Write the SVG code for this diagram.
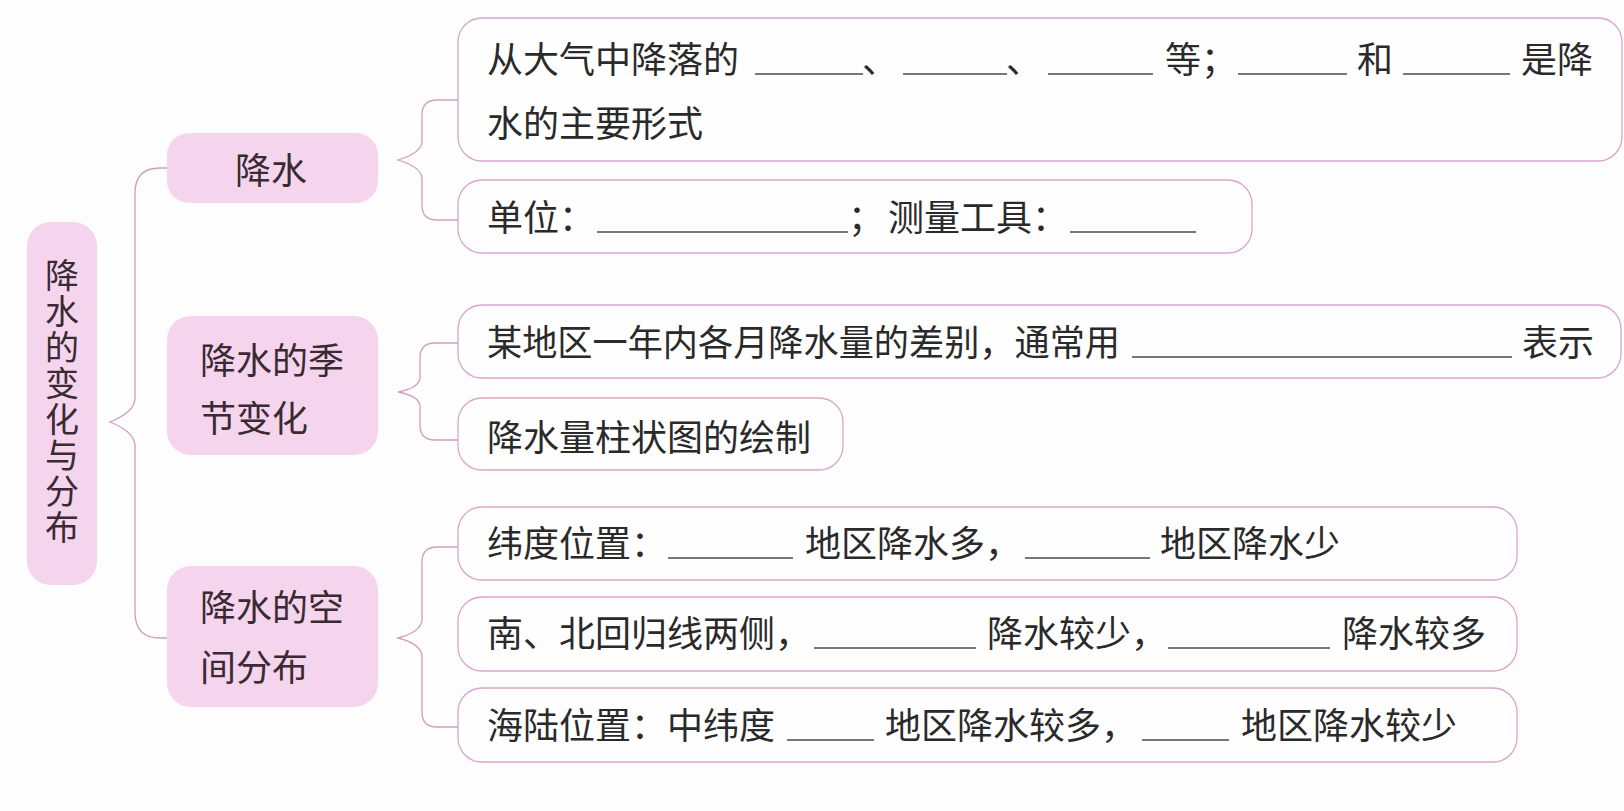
<svg xmlns="http://www.w3.org/2000/svg" width="1624" height="811" viewBox="0 0 1624 811">
<style>
.bg{fill:#fefdfe}
.node{fill:#f5d5ed;stroke:none}
.leaf{fill:#fffeff;stroke:#d9a5cc;stroke-width:1.3}
.conn{fill:none;stroke:#cf9fc0;stroke-width:1.3}
.nt{font-family:"Noto Sans CJK SC","Noto Sans",sans-serif;font-size:36px;fill:#3a2a31}
.lt{font-family:"Noto Sans CJK SC","Noto Sans",sans-serif;font-size:36px;fill:#2a2a2a}
.vt{font-family:"Noto Sans CJK SC","Noto Sans",sans-serif;font-size:34px;fill:#3a2a31;writing-mode:vertical-rl;letter-spacing:2px}
.bl{stroke:#4a4a4a;stroke-width:1.3}
</style>
<rect class="bg" x="0" y="0" width="1624" height="811"/>
<g id="connectors">
  <path class="conn" d="M167 168 H160 Q135 168 135 193 V398 Q135 412 110 422 Q135 432 135 446 V612 Q135 638 160 638 H167"/>
  <path class="conn" d="M458 100 H437 Q422 100 422 115 V142 Q421 153 398 160 Q421 167 422 178 V205 Q422 220 437 220 H458"/>
  <path class="conn" d="M458 343 H435 Q420 343 420 358 V378 Q419 388 398 392 Q419 396 420 406 V425 Q420 440 435 440 H458"/>
  <path class="conn" d="M458 547 H437 Q422 547 422 562 V620 Q421 632 398 638 Q421 644 422 656 V712 Q422 727 437 727 H458"/>
</g>
<g id="root">
  <rect class="node" x="27" y="222" width="70" height="363" rx="24"/>
  <text class="vt" x="62" y="258">降水的变化与分布</text>
</g>
<g id="n-jiangshui">
  <rect class="node" x="167" y="133" width="211" height="70" rx="22"/>
  <text class="nt" text-anchor="middle" x="271" y="184">降水</text>
</g>
<g id="n-jijie">
  <rect class="node" x="167" y="316" width="211" height="139" rx="24"/>
  <text class="nt" x="200" y="374">降水的季</text>
  <text class="nt" x="200" y="432">节变化</text>
</g>
<g id="n-kongjian">
  <rect class="node" x="167" y="566" width="211" height="141" rx="24"/>
  <text class="nt" x="200" y="621">降水的空</text>
  <text class="nt" x="200" y="681">间分布</text>
</g>
<g id="leaf1">
  <rect class="leaf" x="458" y="18" width="1164" height="143" rx="24"/>
  <text class="lt" x="487" y="73">从大气中降落的</text>
  <line class="bl" x1="755" y1="74" x2="863" y2="74"/>
  <text class="lt" x="862" y="73">、</text>
  <line class="bl" x1="903" y1="74" x2="1007" y2="74"/>
  <text class="lt" x="1006" y="73">、</text>
  <line class="bl" x1="1048" y1="74" x2="1153" y2="74"/>
  <text class="lt" x="1165" y="73">等；</text>
  <line class="bl" x1="1238" y1="74" x2="1347" y2="74"/>
  <text class="lt" x="1357" y="73">和</text>
  <line class="bl" x1="1403" y1="74" x2="1510" y2="74"/>
  <text class="lt" x="1521" y="73">是降</text>
  <text class="lt" x="487" y="137">水的主要形式</text>
</g>
<g id="leaf2">
  <rect class="leaf" x="458" y="180" width="794" height="73" rx="24"/>
  <text class="lt" x="487" y="231">单位：</text>
  <line class="bl" x1="597" y1="232" x2="848" y2="232"/>
  <text class="lt" x="848" y="231">；</text>
  <text class="lt" x="888" y="231">测量工具：</text>
  <line class="bl" x1="1070" y1="232" x2="1196" y2="232"/>
</g>
<g id="leaf3">
  <rect class="leaf" x="458" y="305" width="1163" height="73" rx="24"/>
  <text class="lt" x="487" y="356" textLength="633" lengthAdjust="spacingAndGlyphs">某地区一年内各月降水量的差别，通常用</text>
  <line class="bl" x1="1132" y1="357" x2="1512" y2="357"/>
  <text class="lt" x="1522" y="356">表示</text>
</g>
<g id="leaf4">
  <rect class="leaf" x="458" y="398" width="385" height="72" rx="24"/>
  <text class="lt" x="487" y="451">降水量柱状图的绘制</text>
</g>
<g id="leaf5">
  <rect class="leaf" x="458" y="507" width="1059" height="73" rx="24"/>
  <text class="lt" x="487" y="557">纬度位置：</text>
  <line class="bl" x1="668" y1="558" x2="793" y2="558"/>
  <text class="lt" x="805" y="557">地区降水多，</text>
  <line class="bl" x1="1025" y1="558" x2="1150" y2="558"/>
  <text class="lt" x="1160" y="557">地区降水少</text>
</g>
<g id="leaf6">
  <rect class="leaf" x="458" y="597" width="1059" height="74" rx="24"/>
  <text class="lt" x="487" y="647">南、北回归线两侧，</text>
  <line class="bl" x1="814" y1="648" x2="976" y2="648"/>
  <text class="lt" x="987" y="647">降水较少，</text>
  <line class="bl" x1="1168" y1="648" x2="1330" y2="648"/>
  <text class="lt" x="1342" y="647">降水较多</text>
</g>
<g id="leaf7">
  <rect class="leaf" x="458" y="688" width="1059" height="74" rx="24"/>
  <text class="lt" x="487" y="739">海陆位置：中纬度</text>
  <line class="bl" x1="787" y1="740" x2="874" y2="740"/>
  <text class="lt" x="885" y="739">地区降水较多，</text>
  <line class="bl" x1="1142" y1="740" x2="1229" y2="740"/>
  <text class="lt" x="1241" y="739">地区降水较少</text>
</g>
</svg>
